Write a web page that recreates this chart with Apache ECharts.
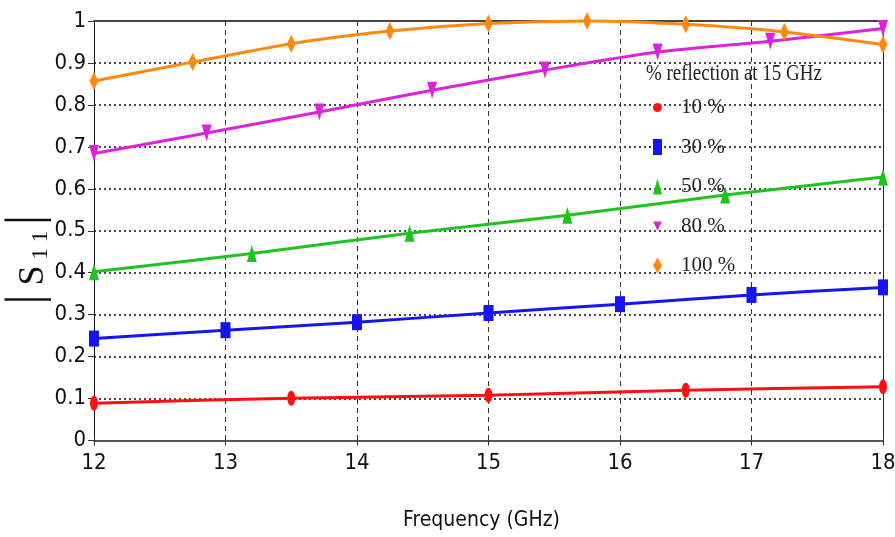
<!DOCTYPE html>
<html>
<head>
<meta charset="utf-8">
<script src="https://cdn.jsdelivr.net/npm/echarts@6/dist/echarts.min.js"></script>
<style>
html,body{margin:0;padding:0;background:#fff;}
#c{width:895px;height:537px;}
</style>
</head>
<body>
<div id="c"></div>
<script>
// ---- data ----
const seriesNames = ['10 %', '30 %', '50 %', '80 %', '100 %'];
const xTicks = [12, 13, 14, 15, 16, 17, 18];

const x10 = [12, 13.5, 15, 16.5, 18];
const y10 = [0.089, 0.101, 0.108, 0.120, 0.128];

const x30 = [12, 13, 14, 15, 16, 17, 18];
const y30 = [0.243, 0.263, 0.282, 0.304, 0.325, 0.347, 0.365];

const x50 = [12, 13.2, 14.4, 15.6, 16.8, 18];
const y50 = [0.402, 0.446, 0.494, 0.537, 0.585, 0.628];

const x80 = [12, 12.857, 13.714, 14.571, 15.429, 16.286, 17.143, 18];
const y80 = [0.684, 0.733, 0.783, 0.835, 0.883, 0.926, 0.952, 0.982];

const x100 = [12, 12.75, 13.5, 14.25, 15, 15.75, 16.5, 17.25, 18];
const y100 = [0.857, 0.902, 0.946, 0.976, 0.994, 1.0, 0.992, 0.974, 0.944];

// ---- styling ----
const colors = ['#ff1010', '#1515f2', '#1ec41e', '#dd22dd', '#ff8811'];
const ellipse = 'path://M1,0 A1,1 0 1,1 1,2 A1,1 0 1,1 1,0 Z';
const downTri = 'path://M0,0 L2,0 L1,2 Z';
const symbols = [ellipse, 'rect', 'triangle', downTri, 'diamond'];
const symSizes = [[8, 15], [10, 16], [10, 17], [10, 17], [9, 18]];
const sansFont = '"DejaVu Sans Condensed", "Liberation Sans Narrow", "DejaVu Sans", sans-serif';
const serifFont = '"Liberation Serif", "DejaVu Serif", serif';

function pairs(xs, ys) { return xs.map((x, i) => [x, ys[i]]); }
const allX = [x10, x30, x50, x80, x100];
const allY = [y10, y30, y50, y80, y100];

const chart = echarts.init(document.getElementById('c'), null, {renderer: 'canvas'});

const series = seriesNames.map((n, i) => ({
  name: n,
  type: 'line',
  data: pairs(allX[i], allY[i]),
  smooth: 0.25,
  symbol: symbols[i],
  symbolSize: symSizes[i],
  showAllSymbol: true,
  clip: false,
  lineStyle: {color: colors[i], width: 3},
  itemStyle: {color: colors[i]},
  z: 3 + i
}));

chart.setOption({
  animation: false,
  backgroundColor: '#fff',
  color: colors,
  grid: {left: 94, right: 12, top: 21, height: 419.5, containLabel: false, outerBoundsMode: 'none'},
  legend: {
    orient: 'vertical',
    left: 653,
    top: 97,
    padding: 0,
    itemWidth: 9,
    itemHeight: 16,
    itemGap: 18.5,
    selectedMode: false,
    textStyle: {fontFamily: serifFont, fontSize: 21, color: '#222', padding: [0, 0, 0, 14]},
    data: seriesNames.map((n, i) => ({name: n, icon: symbols[i]}))
  },
  graphic: [{
    type: 'text',
    x: 646,
    y: 62,
    scaleX: 0.79,
    style: {
      text: '% reflection at 15 GHz',
      font: '24px ' + serifFont,
      fill: '#222',
      textVerticalAlign: 'top'
    }
  }],
  xAxis: [{
    type: 'value',
    position: 'bottom',
    min: 12, max: 18, interval: 1,
    name: 'Frequency (GHz)',
    nameLocation: 'middle',
    nameGap: 70,
    nameTextStyle: {fontFamily: sansFont, fontSize: 21, color: '#111', padding: [0, 14, 0, 0]},
    axisLine: {show: true, onZero: false, lineStyle: {color: '#555', width: 2}},
    axisTick: {show: true, length: 5, lineStyle: {color: '#333', width: 1}},
    axisLabel: {fontFamily: sansFont, fontSize: 22, color: '#111', margin: 12,
      formatter: v => xTicks.includes(v) ? String(v) : ''},
    splitLine: {show: true, lineStyle: {type: [5, 4], color: '#333', width: 1}}
  }, {
    type: 'value',
    position: 'top',
    min: 12, max: 18, interval: 1,
    axisLine: {show: true, onZero: false, lineStyle: {color: '#444', width: 2}},
    axisTick: {show: false},
    axisLabel: {show: false},
    splitLine: {show: false}
  }, {
    type: 'value',
    position: 'bottom',
    min: 12, max: 18, interval: 1,
    axisLine: {show: false},
    axisTick: {show: true, inside: true, length: 5, lineStyle: {color: '#333', width: 1}},
    axisLabel: {show: false},
    splitLine: {show: false}
  }],
  yAxis: [{
    type: 'value',
    position: 'left',
    min: 0, max: 1, interval: 0.1,
    name: '{b||}{s| S}{n| 1 1 }{b||}',
    nameLocation: 'middle',
    nameRotate: 90,
    nameGap: 42,
    nameMoveOverlap: false,
    nameTextStyle: {
      color: '#111',
      padding: [0, 58, 0, 0],
      rich: {
        b: {fontFamily: serifFont, fontSize: 50, color: '#111', verticalAlign: 'bottom'},
        s: {fontFamily: serifFont, fontSize: 36, color: '#111', verticalAlign: 'bottom'},
        n: {fontFamily: serifFont, fontSize: 23, color: '#111', verticalAlign: 'bottom'}
      }
    },
    axisLine: {show: true, onZero: false, lineStyle: {color: '#111', width: 1}},
    axisTick: {show: true, length: 6, lineStyle: {color: '#333'}},
    axisLabel: {fontFamily: sansFont, fontSize: 22, color: '#111', margin: 8,
      formatter: v => String(Math.round(v * 10) / 10)},
    splitLine: {show: true, lineStyle: {type: [2, 3], color: '#111', width: 1.5}}
  }, {
    type: 'value',
    position: 'right',
    min: 0, max: 1, interval: 0.1,
    axisLine: {show: true, onZero: false, lineStyle: {color: '#222', width: 1}},
    axisTick: {show: false},
    axisLabel: {show: false},
    splitLine: {show: false}
  }],
  series: series
});
</script>
</body>
</html>
